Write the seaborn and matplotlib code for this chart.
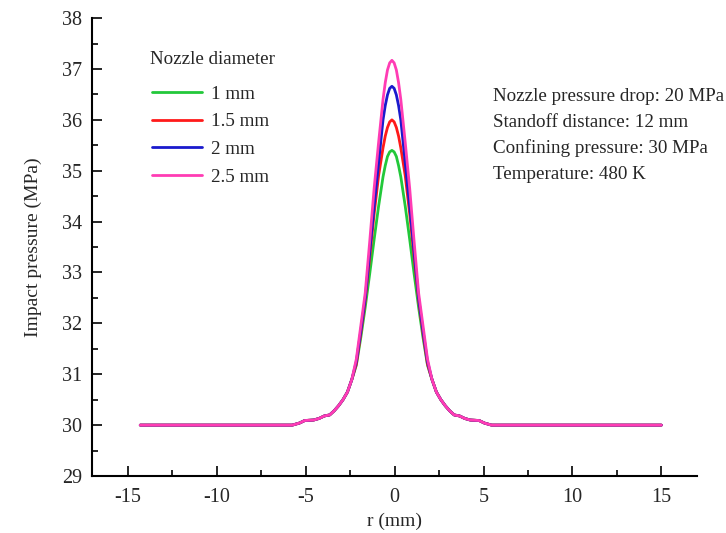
import matplotlib
matplotlib.use("Agg")
import matplotlib.pyplot as plt
import seaborn as sns
import pandas as pd
from matplotlib.ticker import MultipleLocator
from matplotlib.lines import Line2D

sns.set_style("ticks")
plt.rcParams['font.family'] = ['Liberation Serif', 'DejaVu Serif']
plt.rcParams['axes.unicode_minus'] = False

r = [-14.3, -5.75, -5.35, -5.05, -4.55, -4.25, -3.95, -3.65, -3.4, -3.15, -2.9, -2.65, -2.4,
     -2.15, -1.9, -1.65, -1.4, -1.15, -0.9, -0.65, -0.525, -0.4, -0.275, -0.15,
     -0.025, 0.1, 0.225, 0.35, 0.6, 0.85, 1.1, 1.35, 1.6, 1.85,
     2.1, 2.35, 2.6, 2.85, 3.1, 3.35, 3.65, 3.95, 4.25, 4.75, 5.05, 5.45, 15.0]

tail_left = [30.0, 30.0, 30.04, 30.09, 30.1, 30.13, 30.18, 30.2, 30.28, 30.38, 30.5, 30.65, 30.9]
tail_right = [30.9, 30.65, 30.5, 30.38, 30.28, 30.2, 30.18, 30.13, 30.1, 30.09, 30.04, 30.0, 30.0]

peak_1mm = [31.18, 31.72, 32.32, 32.97, 33.65, 34.3, 34.88, 35.1, 35.28, 35.37, 35.4,
            35.37, 35.28, 35.1, 34.88, 34.3, 33.65, 32.97, 32.32, 31.72, 31.18]
peak_15mm = [31.2, 31.8, 32.45, 33.3, 34.15, 34.9, 35.45, 35.68, 35.85, 35.96, 36.0,
             35.96, 35.85, 35.68, 35.45, 34.9, 34.15, 33.3, 32.45, 31.8, 31.2]
peak_2mm = [31.25, 31.85, 32.5, 33.4, 34.3, 35.15, 36.0, 36.28, 36.49, 36.62, 36.66,
            36.62, 36.49, 36.28, 36.0, 35.15, 34.3, 33.4, 32.5, 31.85, 31.25]
peak_25mm = [31.3, 31.95, 32.6, 33.6, 34.65, 35.55, 36.4, 36.73, 36.98, 37.12, 37.17,
             37.12, 36.98, 36.73, 36.4, 35.55, 34.65, 33.6, 32.6, 31.95, 31.3]

labels = ["1 mm", "1.5 mm", "2 mm", "2.5 mm"]
colors = ["#22c83a", "#ff1a1a", "#1a1acd", "#ff3cb4"]
notes = ["Nozzle pressure drop: 20 MPa", "Standoff distance: 12 mm",
         "Confining pressure: 30 MPa", "Temperature: 480 K"]

frames = []
for lab, pk in zip(labels, [peak_1mm, peak_15mm, peak_2mm, peak_25mm]):
    vals = tail_left + pk + tail_right
    frames.append(pd.DataFrame({"r": r, "p": vals, "d": lab}))
df = pd.concat(frames, ignore_index=True)

fig = plt.figure(figsize=(7.26, 5.33), dpi=100)
ax = fig.add_axes([0.127, 0.107, 0.833, 0.859])

sns.lineplot(data=df, x="r", y="p", hue="d", palette=colors, hue_order=labels,
             linewidth=2, ax=ax, sort=False, estimator=None, legend=False)

ax.set_xlim(-17, 17)
ax.set_ylim(29, 38)
ax.xaxis.set_major_locator(MultipleLocator(5))
ax.xaxis.set_minor_locator(MultipleLocator(2.5))
ax.yaxis.set_major_locator(MultipleLocator(1))
ax.yaxis.set_minor_locator(MultipleLocator(0.5))
ax.tick_params(which="major", direction="in", length=7.5, width=1.4, labelsize=14.5, pad=7)
ax.tick_params(axis="x", which="major", pad=9)
ax.tick_params(which="minor", direction="in", length=4, width=1.4)
for s in ["top", "right"]:
    ax.spines[s].set_visible(False)
for s in ["left", "bottom"]:
    ax.spines[s].set_linewidth(1.5)
    ax.spines[s].set_color("black")

ax.set_xlabel("r (mm)", fontsize=14, labelpad=4)
ax.set_ylabel("Impact pressure (MPa)", fontsize=14, labelpad=15)

ax.text(0.096, 0.91, "Nozzle diameter", transform=ax.transAxes, fontsize=13.7, va="center")
handles = [Line2D([0], [0], color=c, lw=2) for c in colors]
leg = ax.legend(handles, labels, frameon=False, fontsize=13.7,
                loc="upper left", bbox_to_anchor=(0.099, 0.853), handlelength=2.6,
                handletextpad=0.5, labelspacing=0.54, borderaxespad=0, borderpad=0)

for i, t in enumerate(notes):
    ax.text(0.663, 0.828 - i * 0.0562, t, transform=ax.transAxes, fontsize=13.7, va="center")

fig.savefig("out.png", dpi=100)
